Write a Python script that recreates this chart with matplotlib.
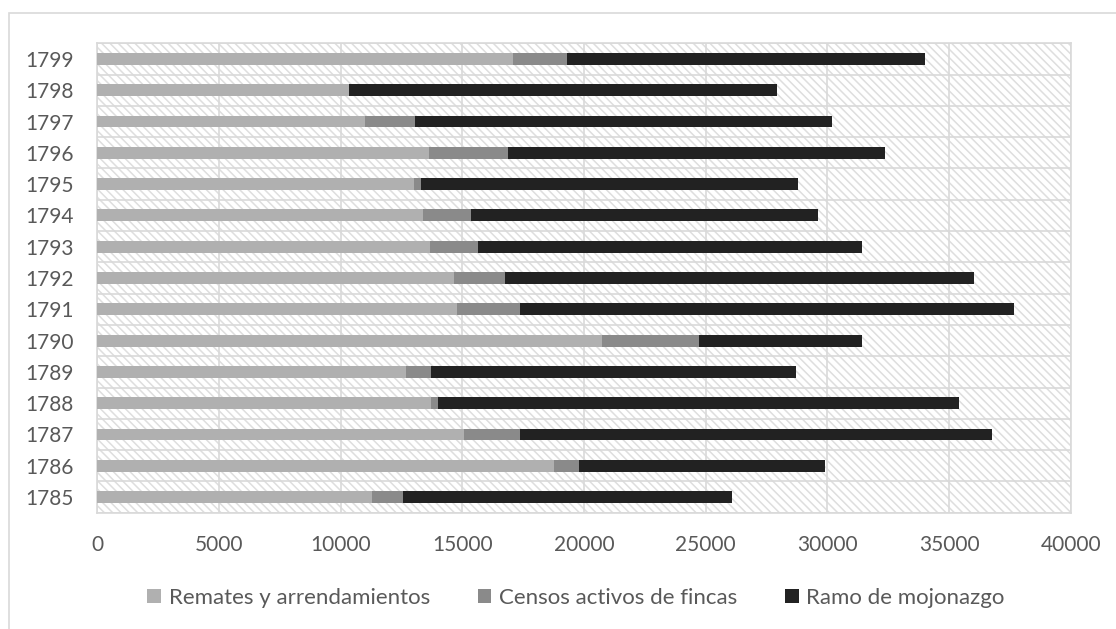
import numpy as np
import matplotlib
matplotlib.use("Agg")
import matplotlib.pyplot as plt
from matplotlib.patches import Rectangle

plt.rcParams['font.family'] = ['Lato', 'DejaVu Sans']
plt.rcParams['hatch.linewidth'] = 1.1

# data (1785 at the bottom)
years = ['1785', '1786', '1787', '1788', '1789', '1790', '1791', '1792',
         '1793', '1794', '1795', '1796', '1797', '1798', '1799']
remates = [11290, 18750, 15070, 13700, 12690, 20730, 14780, 14660,
           13670, 13370, 13010, 13630, 11000, 10340, 17070]
censos = [1260, 1040, 2300, 290, 1040, 3990, 2590, 2100,
          1960, 2000, 280, 3230, 2050, 0, 2230]
mojonazgo = [13530, 10130, 19400, 21420, 14970, 6720, 20300, 19270,
             15790, 14230, 15520, 15500, 17160, 17580, 14710]
labels = ['Remates y arrendamientos', 'Censos activos de fincas', 'Ramo de mojonazgo']
colors = ['#b0b0b0', '#8a8a8a', '#222222']

grid_c = '#d9d9d9'
text_c = '#595959'

fig = plt.figure(figsize=(11.16, 6.29), dpi=100)
ax = fig.add_axes([97.3 / 1116, 1 - 512.7 / 629, (1070.7 - 97.3) / 1116, (512.7 - 43.3) / 629])

# hatched plot background
bg = Rectangle((0, 0), 1, 1, transform=ax.transAxes, facecolor='white',
               edgecolor='#dedede', hatch='\\\\\\\\', linewidth=0, zorder=0)
ax.add_patch(bg)

y = np.arange(len(years))
h = 0.38
left = np.zeros(len(years))
for vals, lab, c in zip([remates, censos, mojonazgo], labels, colors):
    ax.barh(y, vals, height=h, left=left, color=c, label=lab, zorder=3)
    left = left + np.array(vals)

ax.set_xlim(0, 40000)
ax.set_ylim(-0.5, len(years) - 0.5)
ax.set_xticks(np.arange(0, 40001, 5000))
ax.set_yticks(y)
ax.set_yticklabels(years)
ax.set_yticks(np.arange(-0.5, len(years), 1), minor=True)

ax.grid(axis='x', which='major', color=grid_c, linewidth=1.2, zorder=1)
ax.grid(axis='y', which='minor', color=grid_c, linewidth=1.2, zorder=1)
ax.set_axisbelow(True)
ax.tick_params(axis='both', which='both', length=0, labelsize=15, colors=text_c)
ax.tick_params(axis='x', pad=16)
ax.tick_params(axis='y', pad=17)
for s in ax.spines.values():
    s.set_color(grid_c)
    s.set_linewidth(1.2)

leg = fig.legend(loc='center', bbox_to_anchor=(0.516, 1 - 598 / 629), ncol=3, frameon=False,
                 fontsize=16, handlelength=0.62, handleheight=0.62, handletextpad=0.33,
                 columnspacing=2.15, labelcolor=text_c)

# outer chart frame
fig.patches.append(Rectangle((8.5 / 1116, -0.1), 2, 1 - 13 / 629 + 0.1, transform=fig.transFigure,
                             fill=False, edgecolor=grid_c, linewidth=1.2))

fig.savefig('out.png', dpi=100)
